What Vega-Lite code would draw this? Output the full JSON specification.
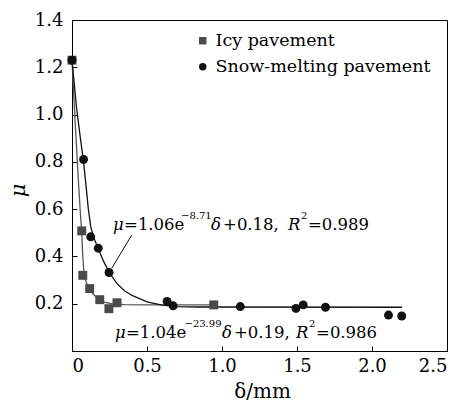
{
  "$schema": "https://vega.github.io/schema/vega-lite/v6.json",
  "width": 375,
  "height": 331,
  "autosize": {"type": "none"},
  "padding": {"left": 72, "top": 20, "right": 14, "bottom": 53},
  "background": "white",
  "config": {
    "view": {"stroke": "black", "strokeWidth": 1},
    "font": "DejaVu Serif",
    "axis": {
      "grid": false,
      "domainColor": "black",
      "tickColor": "black",
      "labelColor": "black",
      "labelFont": "DejaVu Serif",
      "labelFontSize": 18,
      "titleFont": "DejaVu Serif",
      "titleColor": "black",
      "titleFontWeight": "normal",
      "tickSize": -5,
      "domainWidth": 1,
      "tickWidth": 1
    },
    "legend": {
      "labelFont": "DejaVu Serif",
      "labelFontSize": 17.5,
      "labelColor": "black",
      "labelLimit": 0
    },
    "text": {"font": "DejaVu Serif"}
  },
  "datasets": {
    "pts": [
      {"delta": 0, "mu": 1.23, "series": "Icy pavement"},
      {"delta": 0.065, "mu": 0.508, "series": "Icy pavement"},
      {"delta": 0.072, "mu": 0.32, "series": "Icy pavement"},
      {"delta": 0.118, "mu": 0.264, "series": "Icy pavement"},
      {"delta": 0.185, "mu": 0.217, "series": "Icy pavement"},
      {"delta": 0.246, "mu": 0.179, "series": "Icy pavement"},
      {"delta": 0.3, "mu": 0.204, "series": "Icy pavement"},
      {"delta": 0.945, "mu": 0.195, "series": "Icy pavement"},
      {"delta": 0, "mu": 1.23, "series": "Snow-melting pavement"},
      {"delta": 0.077, "mu": 0.81, "series": "Snow-melting pavement"},
      {"delta": 0.125, "mu": 0.483, "series": "Snow-melting pavement"},
      {"delta": 0.175, "mu": 0.435, "series": "Snow-melting pavement"},
      {"delta": 0.247, "mu": 0.332, "series": "Snow-melting pavement"},
      {"delta": 0.634, "mu": 0.21, "series": "Snow-melting pavement"},
      {"delta": 0.674, "mu": 0.191, "series": "Snow-melting pavement"},
      {"delta": 1.122, "mu": 0.188, "series": "Snow-melting pavement"},
      {"delta": 1.493, "mu": 0.18, "series": "Snow-melting pavement"},
      {"delta": 1.541, "mu": 0.195, "series": "Snow-melting pavement"},
      {"delta": 1.69, "mu": 0.185, "series": "Snow-melting pavement"},
      {"delta": 2.11, "mu": 0.152, "series": "Snow-melting pavement"},
      {"delta": 2.198, "mu": 0.148, "series": "Snow-melting pavement"}
    ],
    "icyCurve": [
      {"delta": 0, "mu": 1.23},
      {"delta": 0.02, "mu": 0.98},
      {"delta": 0.04, "mu": 0.75},
      {"delta": 0.055, "mu": 0.59},
      {"delta": 0.065, "mu": 0.5},
      {"delta": 0.071, "mu": 0.41},
      {"delta": 0.078, "mu": 0.345},
      {"delta": 0.088, "mu": 0.305},
      {"delta": 0.1, "mu": 0.282},
      {"delta": 0.118, "mu": 0.26},
      {"delta": 0.15, "mu": 0.235},
      {"delta": 0.185, "mu": 0.217},
      {"delta": 0.22, "mu": 0.206},
      {"delta": 0.27, "mu": 0.199},
      {"delta": 0.35, "mu": 0.196},
      {"delta": 0.5, "mu": 0.195},
      {"delta": 0.945, "mu": 0.195}
    ],
    "snowCurve": [
      {"delta": 0, "mu": 1.23},
      {"delta": 0.03, "mu": 1.03},
      {"delta": 0.058, "mu": 0.89},
      {"delta": 0.077, "mu": 0.8},
      {"delta": 0.095, "mu": 0.69},
      {"delta": 0.109, "mu": 0.6},
      {"delta": 0.125, "mu": 0.525},
      {"delta": 0.15, "mu": 0.472},
      {"delta": 0.175, "mu": 0.432},
      {"delta": 0.21, "mu": 0.38},
      {"delta": 0.247, "mu": 0.333},
      {"delta": 0.3, "mu": 0.285},
      {"delta": 0.35, "mu": 0.255},
      {"delta": 0.4, "mu": 0.235},
      {"delta": 0.5, "mu": 0.208},
      {"delta": 0.6, "mu": 0.194},
      {"delta": 0.7, "mu": 0.188},
      {"delta": 0.85, "mu": 0.186},
      {"delta": 2.2, "mu": 0.185}
    ],
    "eqNormal": [
      {"delta": 0.347, "mu": 0.51, "t": "=1.06e"},
      {"delta": 1.007, "mu": 0.51, "t": "+0.18,"},
      {"delta": 1.573, "mu": 0.51, "t": "=0.989"},
      {"delta": 0.36, "mu": 0.055, "t": "=1.04e"},
      {"delta": 1.08, "mu": 0.055, "t": "+0.19,"},
      {"delta": 1.627, "mu": 0.055, "t": "=0.986"}
    ],
    "eqItalic": [
      {"delta": 0.273, "mu": 0.51, "t": "μ"},
      {"delta": 0.927, "mu": 0.51, "t": "δ"},
      {"delta": 1.44, "mu": 0.51, "t": "R"},
      {"delta": 0.287, "mu": 0.055, "t": "μ"},
      {"delta": 1.0, "mu": 0.055, "t": "δ"},
      {"delta": 1.493, "mu": 0.055, "t": "R"}
    ],
    "eqSup": [
      {"delta": 0.727, "mu": 0.558, "t": "−8.71"},
      {"delta": 1.527, "mu": 0.558, "t": "2"},
      {"delta": 0.75, "mu": 0.1, "t": "−23.99"},
      {"delta": 1.58, "mu": 0.1, "t": "2"}
    ],
    "leader": [
      {"x1": 0.398, "y1": 0.49, "x2": 0.265, "y2": 0.35}
    ]
  },
  "layer": [
    {
      "data": {"name": "icyCurve"},
      "mark": {"type": "line", "color": "#555555", "strokeWidth": 1.3},
      "encoding": {
        "x": {"field": "delta", "type": "quantitative", "scale": {"domain": [0, 2.5], "nice": false},
          "axis": {"values": [0, 0.5, 1, 1.5, 2, 2.5], "labelExpr": "datum.value == 0 ? '0' : format(datum.value, '.1f')", "title": "δ/mm", "titleFontSize": 20, "labelPadding": 11, "titleX": 190, "titleY": 46, "titleBaseline": "alphabetic"}},
        "y": {"field": "mu", "type": "quantitative", "scale": {"domain": [0, 1.4], "nice": false},
          "axis": {"values": [0.2, 0.4, 0.6, 0.8, 1.0, 1.2, 1.4], "format": ".1f", "title": "μ", "titleFontSize": 21, "titleFontStyle": "italic", "labelPadding": 14, "titleX": -54, "titleY": 170, "titleBaseline": "middle", "titleAlign": "center", "titleAngle": -90}}
      }
    },
    {
      "data": {"name": "snowCurve"},
      "mark": {"type": "line", "color": "#111111", "strokeWidth": 1.3},
      "encoding": {
        "x": {"field": "delta", "type": "quantitative"},
        "y": {"field": "mu", "type": "quantitative"}
      }
    },
    {
      "data": {"name": "leader"},
      "mark": {"type": "rule", "color": "#111111", "strokeWidth": 1},
      "encoding": {
        "x": {"field": "x1", "type": "quantitative"},
        "y": {"field": "y1", "type": "quantitative"},
        "x2": {"field": "x2"},
        "y2": {"field": "y2"}
      }
    },
    {
      "data": {"name": "pts"},
      "mark": {"type": "point", "filled": true, "opacity": 1, "size": 80},
      "encoding": {
        "x": {"field": "delta", "type": "quantitative"},
        "y": {"field": "mu", "type": "quantitative"},
        "shape": {"field": "series", "type": "nominal", "scale": {"domain": ["Icy pavement", "Snow-melting pavement"], "range": ["square", "circle"]},
          "legend": {"title": null, "orient": "none", "legendX": 122, "legendY": 12, "symbolSize": 55, "labelOffset": 4, "rowPadding": 7, "padding": 0, "labelLimit": 0}},
        "color": {"field": "series", "type": "nominal", "scale": {"domain": ["Icy pavement", "Snow-melting pavement"], "range": ["#4a4a4a", "#111111"]},
          "legend": {"title": null, "orient": "none", "legendX": 122, "legendY": 12, "symbolSize": 55, "labelOffset": 4, "rowPadding": 7, "padding": 0, "labelLimit": 0}}
      }
    },
    {
      "data": {"name": "eqNormal"},
      "mark": {"type": "text", "align": "left", "baseline": "alphabetic", "fontSize": 16.5, "color": "black"},
      "encoding": {
        "x": {"field": "delta", "type": "quantitative"},
        "y": {"field": "mu", "type": "quantitative"},
        "text": {"field": "t"}
      }
    },
    {
      "data": {"name": "eqItalic"},
      "mark": {"type": "text", "align": "left", "baseline": "alphabetic", "fontSize": 16.5, "fontStyle": "italic", "color": "black"},
      "encoding": {
        "x": {"field": "delta", "type": "quantitative"},
        "y": {"field": "mu", "type": "quantitative"},
        "text": {"field": "t"}
      }
    },
    {
      "data": {"name": "eqSup"},
      "mark": {"type": "text", "align": "left", "baseline": "alphabetic", "fontSize": 10, "color": "black"},
      "encoding": {
        "x": {"field": "delta", "type": "quantitative"},
        "y": {"field": "mu", "type": "quantitative"},
        "text": {"field": "t"}
      }
    }
  ]
}
